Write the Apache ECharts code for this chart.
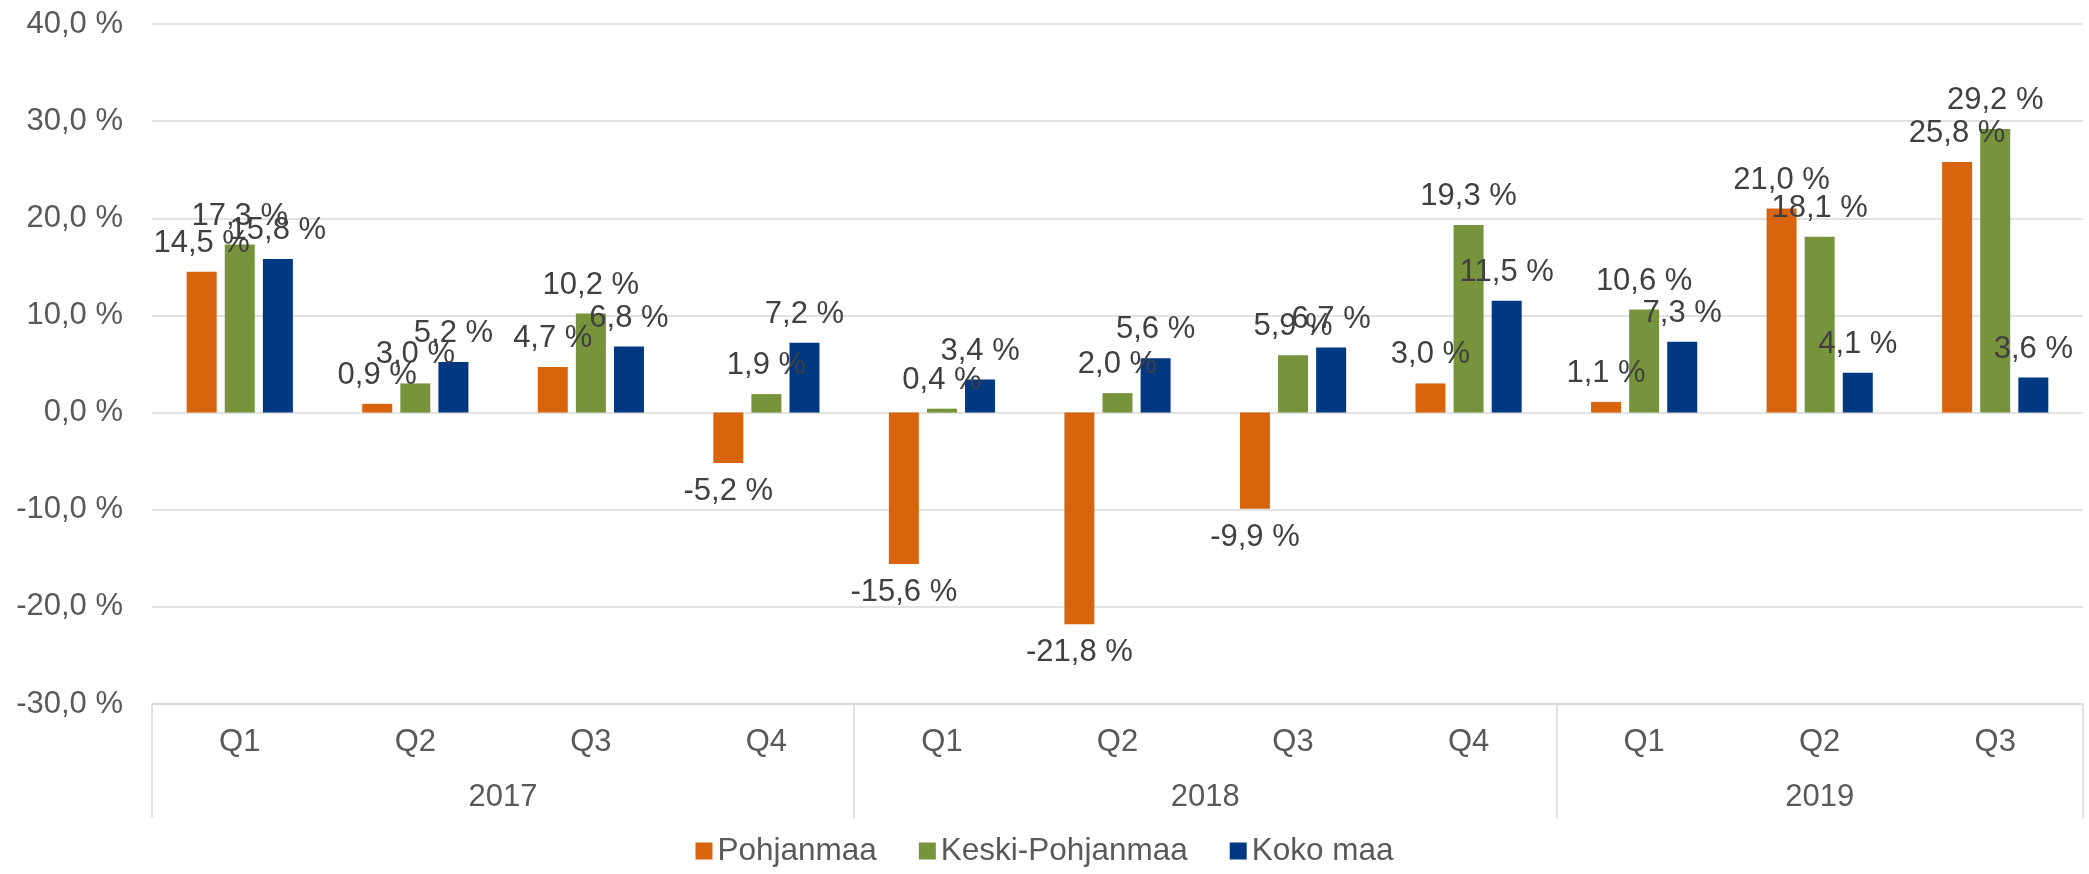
<!DOCTYPE html>
<html>
<head>
<meta charset="utf-8">
<script src="https://cdn.jsdelivr.net/npm/echarts@6/dist/echarts.min.js"></script>
<style>
html,body{margin:0;padding:0;background:#fff;}
#chart{width:2089px;height:874px;}
</style>
</head>
<body>
<div id="chart"></div>
<script>
const quarters = ['Q1','Q2','Q3','Q4','Q1','Q2','Q3','Q4','Q1','Q2','Q3'];
const years = ['2017','2018','2019'];
const yearSpans = [4,4,3];
const seriesNames = ['Pohjanmaa','Keski-Pohjanmaa','Koko maa'];
const pohjanmaa = [14.5, 0.9, 4.7, -5.2, -15.6, -21.8, -9.9, 3.0, 1.1, 21.0, 25.8];
const keskiPohjanmaa = [17.3, 3.0, 10.2, 1.9, 0.4, 2.0, 5.9, 19.3, 10.6, 18.1, 29.2];
const kokoMaa = [15.8, 5.2, 6.8, 7.2, 3.4, 5.6, 6.7, 11.5, 7.3, 4.1, 3.6];
const colors = ['#D9640E','#77933C','#003882'];

const FONT = 'Liberation Sans, Arial, sans-serif';
const FS = 31;

// year boundaries and centres derived from spans
const yearBounds = [0];
const yearCenters = [];
yearSpans.forEach((s, i) => {
  yearCenters.push(yearBounds[i] + s / 2);
  yearBounds.push(yearBounds[i] + s);
});

const fmt = v => v.toFixed(1).replace('.', ',') + ' %';

const chart = echarts.init(document.getElementById('chart'), null, {renderer: 'canvas'});
const mkSeries = (name, data, color) => ({
  name: name,
  type: 'bar',
  xAxisIndex: 0,
  data: data,
  barWidth: 30,
  barGap: '27%',
  itemStyle: {color: color},
  label: {
    show: true,
    position: 'outside',
    distance: 13,
    color: '#404040',
    fontFamily: FONT,
    fontSize: FS,
    formatter: p => fmt(p.value)
  }
});

chart.setOption({
  animation: false,
  textStyle: {fontFamily: FONT},
  grid: {left: 152, right: 6, top: 24, bottom: 170, containLabel: false},
  legend: {
    data: seriesNames,
    left: 'center',
    top: 830,
    icon: 'rect',
    itemWidth: 17,
    itemHeight: 17,
    itemGap: 42,
    textStyle: {color: '#595959', fontSize: 31.5, fontFamily: FONT}
  },
  xAxis: [
    {
      type: 'category',
      data: quarters,
      position: 'bottom',
      axisLine: {show: true, onZero: false, lineStyle: {color: '#d9d9d9', width: 1.5}},
      axisTick: {show: false},
      axisLabel: {color: '#595959', fontSize: FS, fontFamily: FONT, margin: 23, interval: 0}
    },
    {
      type: 'value',
      min: 0,
      max: quarters.length,
      position: 'bottom',
      gridIndex: 0,
      splitLine: {show: false},
      axisLine: {show: false, onZero: false},
      axisTick: {show: true, customValues: yearBounds, length: 114, lineStyle: {color: '#d9d9d9', width: 1.5}},
      axisLabel: {
        show: true,
        customValues: yearCenters,
        color: '#595959', fontSize: FS, fontFamily: FONT, margin: 78,
        formatter: v => {
          const i = yearCenters.findIndex(c => Math.abs(c - v) < 1e-6);
          return i >= 0 ? years[i] : '';
        }
      }
    }
  ],
  yAxis: {
    type: 'value',
    min: -30,
    max: 40,
    interval: 10,
    axisLine: {show: false},
    axisTick: {show: false},
    splitLine: {show: true, lineStyle: {color: '#d9d9d9', width: 1.5}},
    axisLabel: {color: '#595959', fontSize: FS, fontFamily: FONT, margin: 29, formatter: v => fmt(v)}
  },
  series: [
    mkSeries(seriesNames[0], pohjanmaa, colors[0]),
    mkSeries(seriesNames[1], keskiPohjanmaa, colors[1]),
    mkSeries(seriesNames[2], kokoMaa, colors[2])
  ]
});
</script>
</body>
</html>
